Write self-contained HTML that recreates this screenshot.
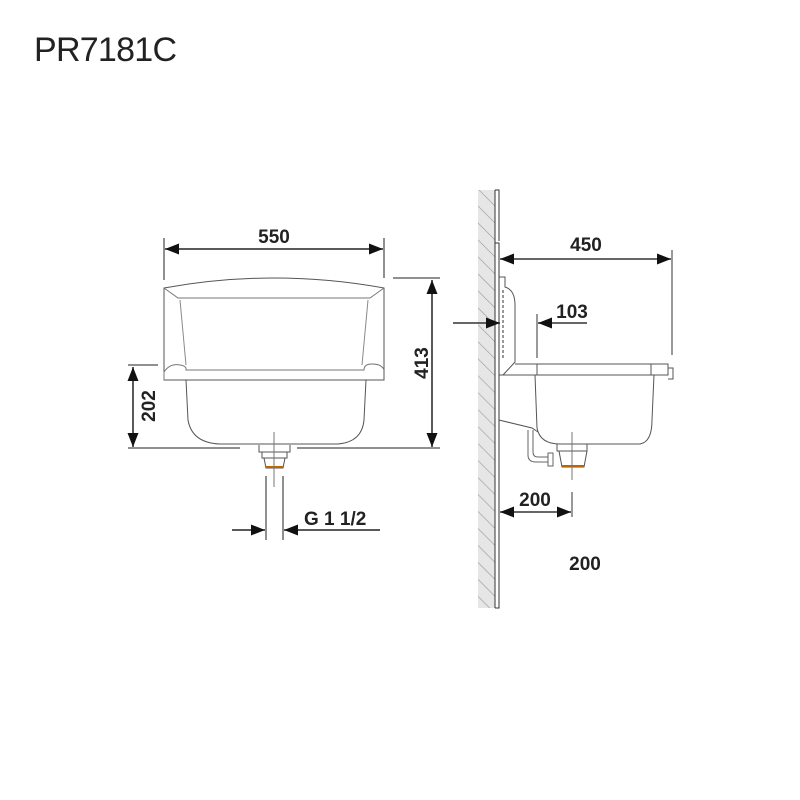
<!DOCTYPE html>
<html><head><meta charset="utf-8"><style>html,body{margin:0;padding:0;background:#fff}svg{display:block}</style></head>
<body>
<svg width="800" height="800" viewBox="0 0 800 800" xmlns="http://www.w3.org/2000/svg" font-family="Liberation Sans, Arial, sans-serif">
<defs>
<pattern id="h" width="12" height="12" patternUnits="userSpaceOnUse" patternTransform="rotate(-45)">
<rect width="12" height="12" fill="#e6e6e6"/><line x1="0" y1="0" x2="0" y2="12" stroke="#999" stroke-width="1.2"/></pattern>
<marker id="a" markerWidth="14" markerHeight="11" refX="14" refY="5.5" orient="auto" markerUnits="userSpaceOnUse"><path d="M0,0 L14,5.5 L0,11z" fill="#111"/></marker>
<marker id="as" markerWidth="14" markerHeight="11" refX="0" refY="5.5" orient="auto" markerUnits="userSpaceOnUse"><path d="M14,0 L0,5.5 L14,11z" fill="#111"/></marker>
</defs>
<text x="34" y="61" font-size="34" fill="#222" textLength="143">PR7181C</text>

<!-- LEFT VIEW -->
<g stroke="#222" fill="none" stroke-width="1">
<line x1="164" y1="238" x2="164" y2="280"/><line x1="384" y1="238" x2="384" y2="278"/>
<line x1="165" y1="249" x2="383" y2="249" stroke-width="1.5" marker-start="url(#as)" marker-end="url(#a)"/>
<path d="M164,288 Q274,268 384,288 L384,380 L164,380 Z" stroke="#555"/>
<path d="M164,288 L178,298 L370,298 L384,288" stroke="#777"/>
<path d="M180,300 L186,365 M368,300 L362,365" stroke="#888"/>
<path d="M164,380 L164,372 Q170,363 180,365 Q187,366 186,370 L364,370 Q364,364 372,364 Q382,364 384,370" stroke="#777"/>
<path d="M186,380 L188,420 Q192,443 220,444 L338,444 Q362,442 364,420 L366,380" stroke="#555"/>
<line x1="128" y1="365" x2="158" y2="365"/><line x1="133" y1="367" x2="133" y2="447" stroke-width="1.5" marker-start="url(#as)" marker-end="url(#a)"/>
<line x1="128" y1="448" x2="240" y2="448"/><line x1="297" y1="448" x2="440" y2="448"/>
<line x1="393" y1="278" x2="440" y2="278"/>
<line x1="432" y1="280" x2="432" y2="447" stroke-width="1.5" marker-start="url(#as)" marker-end="url(#a)"/>
<path d="M259,445 L259,452 L290,452 L290,445 M262,452 L262,458 L287,458 L287,452 M264,458 L266,468 L283,468 L285,458" stroke="#555"/>
<line x1="266" y1="467" x2="283" y2="467" stroke="#b60" stroke-width="2"/>
<line x1="274" y1="432" x2="274" y2="487" stroke="#777"/>
<line x1="266" y1="476" x2="266" y2="540"/><line x1="283" y1="476" x2="283" y2="540"/>
<line x1="232" y1="530" x2="265" y2="530" stroke-width="1.5" marker-end="url(#a)"/>
<line x1="380" y1="530" x2="284" y2="530" stroke-width="1.5" marker-end="url(#a)"/>
</g>
<g font-weight="bold" font-size="19" fill="#222">
<text x="274" y="243" text-anchor="middle">550</text>
<text x="304" y="525">G 1 1/2</text>
<text transform="translate(428,363) rotate(-90)" text-anchor="middle">413</text>
<text transform="translate(155,406) rotate(-90)" text-anchor="middle">202</text>
<text x="586" y="251" text-anchor="middle">450</text>
<text x="572" y="318" text-anchor="middle">103</text>
<text x="535" y="506" text-anchor="middle">200</text>
<text x="585" y="570" text-anchor="middle">200</text>
</g>

<!-- RIGHT VIEW -->
<rect x="478" y="190" width="17" height="418" fill="url(#h)"/>
<g stroke="#333" fill="none" stroke-width="1">
<line x1="495" y1="190" x2="495" y2="608"/>
<path d="M495,190 L499,190 L499,241 M495,243 L499,243 L499,608 L495,608"/>
<line x1="500" y1="259" x2="671" y2="259" stroke-width="1.5" marker-start="url(#as)" marker-end="url(#a)"/>
<line x1="672" y1="250" x2="672" y2="355"/>
<line x1="453" y1="323" x2="500" y2="323" stroke-width="1.5" marker-end="url(#a)"/>
<line x1="587" y1="323" x2="538" y2="323" stroke-width="1.5" marker-end="url(#a)"/>
<line x1="537" y1="314" x2="537" y2="358"/>
<path d="M499,277 L505,277 L505,287 Q515,290 515,305 L515,362 L503,375 M499,375" stroke="#555"/>
<line x1="503" y1="290" x2="503" y2="360" stroke-dasharray="3,2"/>
<path d="M499,375 L668,375 L668,364 L515,364" stroke="#555"/>
<line x1="537" y1="364" x2="537" y2="375" stroke="#555"/><line x1="651" y1="364" x2="651" y2="375" stroke="#555"/>
<path d="M668,368 L673,368 L673,379 L668,379" stroke="#555"/>
<path d="M535,375 L537,428 Q540,444 560,444 L640,444 Q652,442 652,420 L654,375" stroke="#555"/>
<path d="M499,420 L532,428 L538,432" stroke="#555"/>
<path d="M528,430 L528,455 Q528,462 536,462 L548,462 M533,430 L533,452 Q533,457 538,457 L548,457" stroke="#666"/>
<path d="M548,453 L553,453 L553,466 L548,466Z" stroke="#666"/>
<path d="M557,444 L557,451 L587,451 L587,444 M559,451 L562,467 L584,467 L587,451" stroke="#555"/>
<line x1="562" y1="466" x2="584" y2="466" stroke="#b60" stroke-width="2"/>
<line x1="572" y1="432" x2="572" y2="480" stroke="#777"/>
<line x1="572" y1="492" x2="572" y2="517"/>
<line x1="500" y1="512" x2="571" y2="512" stroke-width="1.5" marker-start="url(#as)" marker-end="url(#a)"/>
</g>
</svg>
</body></html>
